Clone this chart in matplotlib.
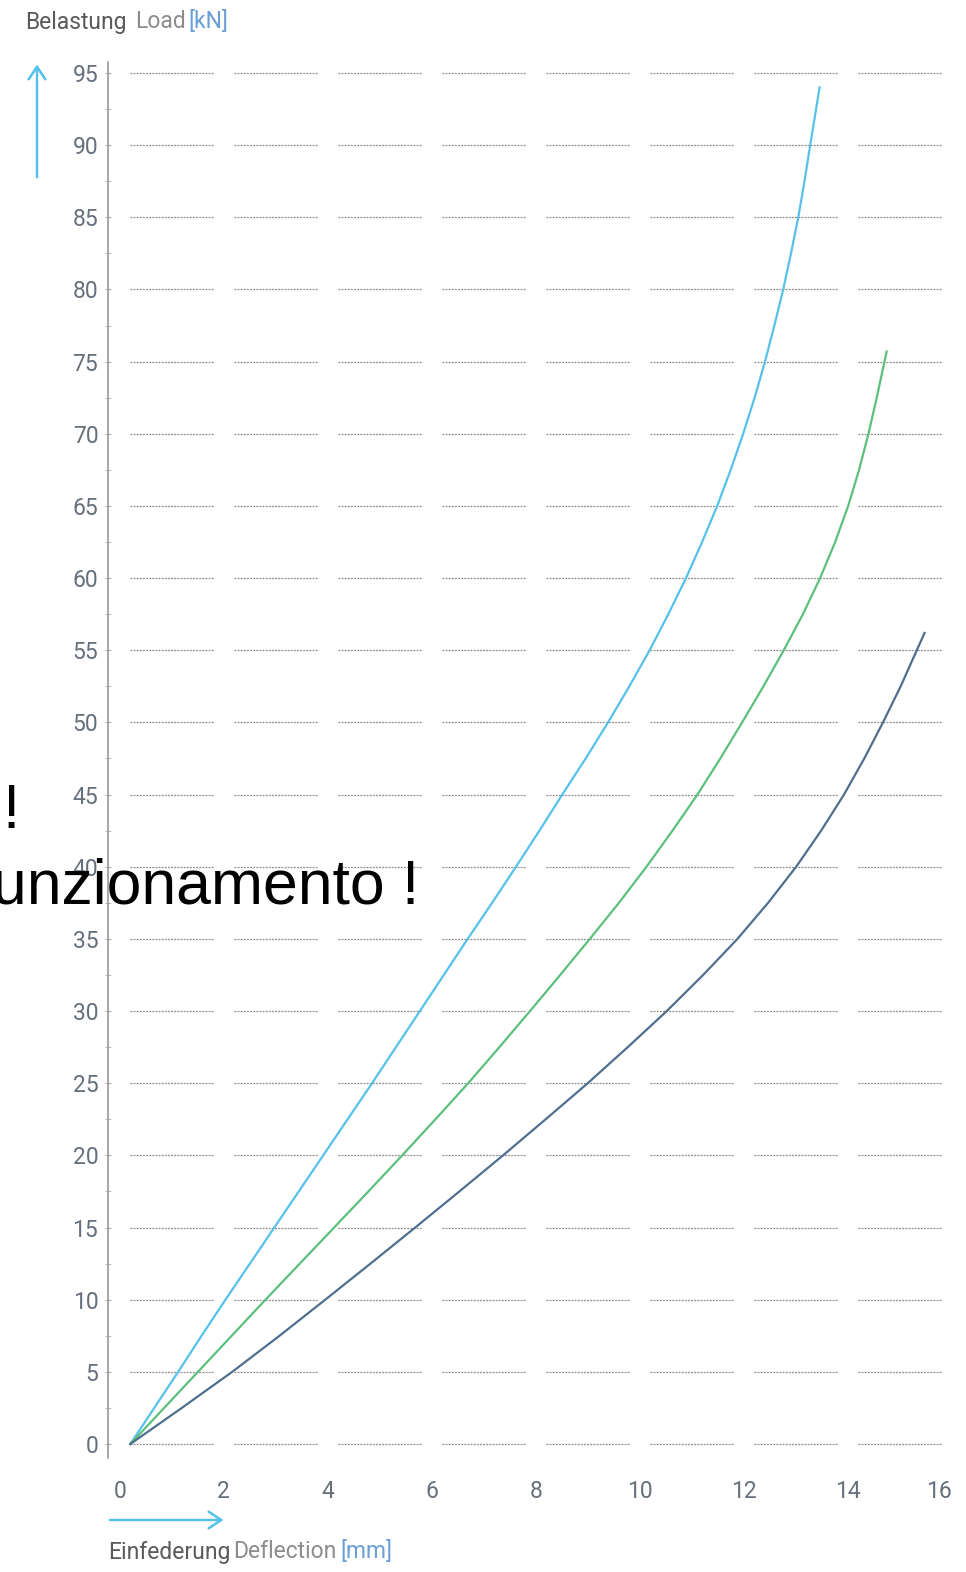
import numpy as np
import matplotlib.pyplot as plt
from matplotlib.ticker import MultipleLocator


# Load / deflection curves (kN vs mm)

blue_load = [0, 2.5, 5, 7.5, 10, 12.5, 15, 17.5, 20, 22.5, 25, 27.5, 30, 32.5, 35,
             37.5, 40, 42.5, 45, 47.5, 50, 52.5, 55, 57.5, 60, 62.5, 65, 67.5,
             70, 72.5, 75, 77.5, 80, 82.5, 85, 87.5, 90, 92, 94]
blue_defl = [0.20, 0.66, 1.12, 1.57, 2.03, 2.50, 2.97, 3.44, 3.91, 4.38, 4.85,
             5.31, 5.77, 6.23, 6.69, 7.16, 7.62, 8.07, 8.51, 8.96, 9.39, 9.80,
             10.19, 10.55, 10.89, 11.20, 11.49, 11.75, 11.99, 12.21, 12.41,
             12.59, 12.76, 12.91, 13.05, 13.17, 13.28, 13.37, 13.46]

green_load = [0, 2.5, 5, 7.5, 10, 12.5, 15, 17.5, 20, 22.5, 25, 27.5, 30, 32.5,
              35, 37.5, 40, 42.5, 45, 47.5, 50, 52.5, 55, 57.5, 60, 62.5, 65,
              67.5, 70, 72.5, 75.7]
green_defl = [0.20, 0.85, 1.50, 2.15, 2.80, 3.46, 4.12, 4.78, 5.43, 6.07, 6.70,
              7.30, 7.89, 8.47, 9.04, 9.60, 10.13, 10.63, 11.11, 11.55, 11.97,
              12.38, 12.77, 13.14, 13.47, 13.76, 14.01, 14.22, 14.40, 14.56, 14.75]

dark_load = [0, 2.5, 5, 7.5, 10, 12.5, 15, 17.5, 20, 22.5, 25, 27.5, 30, 32.5,
             35, 37.5, 40, 42.5, 45, 47.5, 50, 52.5, 55, 56.2]
dark_defl = [0.20, 1.19, 2.16, 3.07, 3.95, 4.82, 5.68, 6.53, 7.37, 8.19, 9.00,
             9.77, 10.52, 11.22, 11.88, 12.47, 13.01, 13.49, 13.93, 14.32,
             14.68, 15.02, 15.33, 15.48]

y_ticks = list(range(0, 100, 5))
x_ticks = list(range(0, 18, 2))

# Colours
c_blue = "#56c1ea"
c_green = "#5cc07c"
c_dark = "#4f6f8e"
c_text = "#66707c"
c_grid = "#8a8a8a"

lab_font = ["Roboto", "DejaVu Sans"]

fig = plt.figure(figsize=(9.66, 15.72), dpi=100)
ax = fig.add_axes([108/966, 1 - 1458/1572, (962-108)/966, (1458-62)/1572])

ax.set_xlim(-0.23, 16.2)
ax.set_ylim(-0.97, 95.76)

# Broken dotted grid: one short segment between each pair of x ticks
for y in y_ticks:
    for x0 in x_ticks[:-1]:
        ax.hlines(y, x0 + 0.2, x0 + 1.8, colors=c_grid, lw=0.9,
                  linestyles=(0, (1.5, 1)), zorder=1)

ax.plot(blue_defl, blue_load, color=c_blue, lw=1.6, zorder=3)
ax.plot(green_defl, green_load, color=c_green, lw=1.6, zorder=3)
ax.plot(dark_defl, dark_load, color=c_dark, lw=1.6, zorder=3)

for side in ["top", "right", "bottom"]:
    ax.spines[side].set_visible(False)
ax.spines["left"].set_color("#9a9a9a")
ax.spines["left"].set_linewidth(1.2)

ax.set_yticks(y_ticks)
ax.set_yticklabels([str(v) for v in y_ticks])
ax.yaxis.set_minor_locator(MultipleLocator(2.5))
ax.tick_params(axis="y", which="both", direction="inout", length=4,
               color="#b0b0b0", pad=5, labelsize=16.5, labelcolor=c_text)
ax.set_xticks(x_ticks)
ax.set_xticklabels([str(v) for v in x_ticks])
ax.tick_params(axis="x", length=0, pad=16, labelsize=16.5, labelcolor=c_text)
for lab in ax.get_xticklabels() + ax.get_yticklabels():
    lab.set_family(lab_font)
ax.get_xticklabels()[-1].set_horizontalalignment("right")


def fx(px):
    return px / 966


def fy(py):
    return 1 - py / 1572


def label_row(x, y, parts):
    # parts: (text, colour, gap in points before it)
    t = fig.text(fx(x), fy(y), parts[0][0], color=parts[0][1], fontsize=16.5,
                 family=lab_font, va="center")
    for txt, col, gap in parts[1:]:
        t = fig.add_artist(plt.Annotation(txt, xy=(1, 0.5), xycoords=t,
                                          xytext=(gap, 0), textcoords="offset points",
                                          color=col, fontsize=16.5, family=lab_font,
                                          va="center"))


# Axis titles (two languages + unit)
label_row(25, 22, [("Belastung", "#5a5a5a", 0), ("Load", "#8c8c8c", 6),
                   ("[kN]", "#6a9fd6", 2)])
label_row(108, 1552, [("Einfederung", "#5a5a5a", 0), ("Deflection", "#8c8c8c", 2),
                      ("[mm]", "#6a9fd6", 3)])

# Direction arrows
arrow_style = "->,head_length=0.9,head_width=0.6"
fig.add_artist(plt.annotate("", xy=(fx(37), fy(62)), xytext=(fx(37), fy(180)),
                            xycoords="figure fraction",
                            arrowprops=dict(arrowstyle=arrow_style, color=c_blue, lw=1.6)))
fig.add_artist(plt.annotate("", xy=(fx(226), fy(1520)), xytext=(fx(107), fy(1520)),
                            xycoords="figure fraction",
                            arrowprops=dict(arrowstyle=arrow_style, color=c_blue, lw=1.6)))

# Overlaid note text, cut off at the left edge
fig.text(fx(2), fy(828), "!", color="black", fontsize=45,
         family=["Liberation Sans", "DejaVu Sans"], ha="left", va="baseline", zorder=10)
fig.text(fx(419), fy(903), "unzionamento !", color="black", fontsize=45,
         family=["Liberation Sans", "DejaVu Sans"], ha="right", va="baseline", zorder=10)

plt.savefig("out.png", dpi=100)
